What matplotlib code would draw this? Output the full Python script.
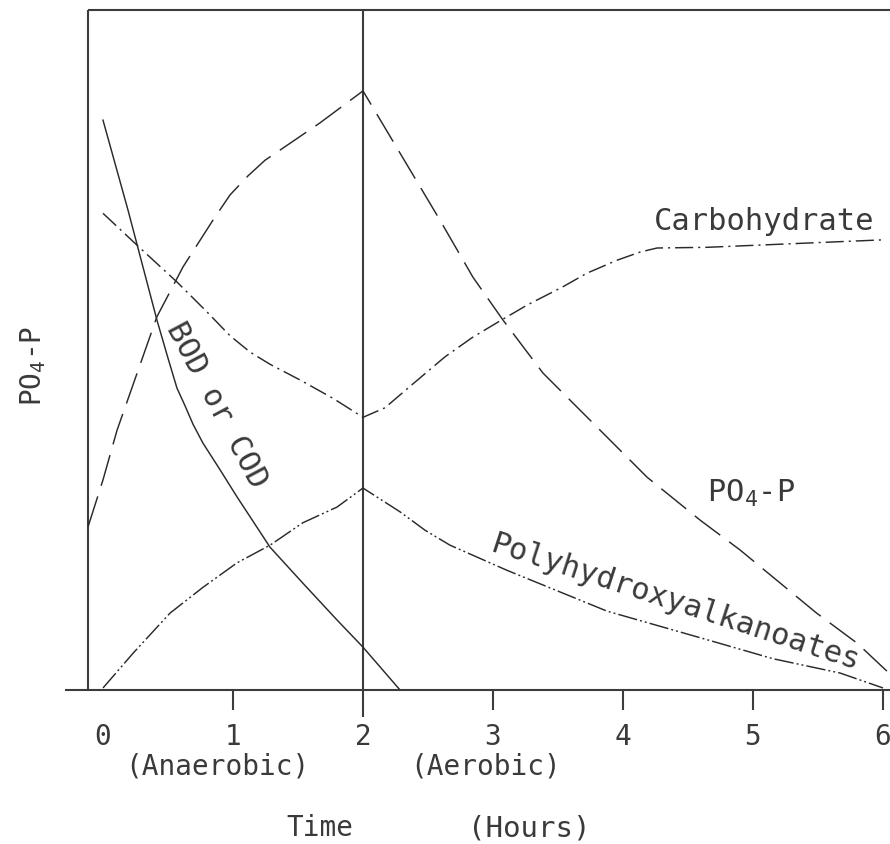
import matplotlib
matplotlib.use("Agg")
import matplotlib.pyplot as plt

plt.rcParams['font.family'] = ['DejaVu Sans Mono', 'DejaVu Sans']
plt.rcParams['mathtext.default'] = 'regular'
plt.rcParams['lines.scale_dashes'] = False

# ---- data (time in hours, concentration in arbitrary units) ----
po4_t = [-0.115, 0.0, 0.108, 0.415, 0.615, 0.846, 0.977, 1.115, 1.246, 1.385, 1.669, 2.0,
         2.592, 2.846, 3.077, 3.385, 3.746, 4.185, 4.592, 4.90, 5.49, 5.80, 6.04]
po4_v = [2.40, 3.09, 3.82, 5.49, 6.22, 6.91, 7.28, 7.56, 7.79, 7.97, 8.34, 8.81,
         6.91, 6.07, 5.44, 4.66, 3.97, 3.13, 2.50, 2.06, 1.13, 0.69, 0.26]

carb_t = [0.0, 0.285, 0.569, 0.80, 0.977, 1.131, 1.285, 1.515, 1.769, 2.0,
          2.169, 2.377, 2.631, 2.838, 3.038, 3.262, 3.538, 3.723, 3.954, 4.131, 4.262, 4.646, 6.0]
carb_v = [7.01, 6.50, 6.00, 5.56, 5.21, 4.97, 4.79, 4.56, 4.29, 4.01,
          4.15, 4.49, 4.90, 5.18, 5.41, 5.66, 5.93, 6.13, 6.32, 6.44, 6.50, 6.51, 6.62]

bod_t = [0.0, 0.192, 0.415, 0.50, 0.569, 0.631, 0.692, 0.769, 0.90, 1.031,
         1.285, 1.538, 1.800, 2.0, 2.285]
bod_v = [8.38, 7.06, 5.44, 4.88, 4.44, 4.18, 3.91, 3.63, 3.24, 2.84,
         2.10, 1.57, 1.03, 0.63, 0.0]

pha_t = [0.0, 0.231, 0.515, 0.769, 1.031, 1.285, 1.538, 1.800, 2.0,
         2.285, 2.477, 2.669, 3.108, 3.877, 4.646, 5.154, 5.669, 6.0]
pha_v = [0.03, 0.54, 1.13, 1.51, 1.87, 2.13, 2.46, 2.69, 2.97,
         2.62, 2.35, 2.13, 1.76, 1.16, 0.74, 0.46, 0.25, 0.03]

tick_vals = [0, 1, 2, 3, 4, 5, 6]
tick_labels = ['0', '1', '2', '3', '4', '5', '6']

# ---- figure ----
W, H = 890, 844
fig = plt.figure(figsize=(W / 100, H / 100), dpi=100)
ax = fig.add_axes([66 / W, (H - 690) / H, 1 - 66 / W, (690 - 10) / H])
xmin, xmax = -0.2846, 6.054
ax.set_xlim(xmin, xmax)
ax.set_ylim(0, 10)

ink = '#2a2a2a'
frame = '#3c3c3c'
lw = 1.05

for s in ['left', 'right', 'top']:
    ax.spines[s].set_visible(False)
ax.spines['bottom'].set_color(frame)
ax.spines['bottom'].set_linewidth(1.5)

# frame lines
ax.hlines(10, -0.115, xmax, color=frame, lw=1.5, clip_on=False)
ax.vlines(-0.115, 0, 10, color=frame, lw=1.5)
ax.vlines(2, -27 / 68, 10, color=frame, lw=1.5, clip_on=False)

# curves
ax.plot(po4_t, po4_v, color=ink, lw=lw, dashes=(23, 8))
ax.plot(carb_t, carb_v, color=ink, lw=lw, dashes=(13, 3.6, 1.5, 3.6))
ax.plot(bod_t, bod_v, color=ink, lw=lw)
ax.plot(pha_t, pha_v, color=ink, lw=lw, dashes=(14, 2.2, 1.4, 2.2, 1.4, 2.2))

# ticks
tc = '#3a3a3a'
ax.set_yticks([])
ax.set_xticks(tick_vals)
ax.set_xticklabels(tick_labels, fontsize=20, color=tc)
ax.tick_params(axis='x', direction='out', length=14.4, width=1.5, color=frame, pad=9.4)
for tk, v in zip(ax.xaxis.get_major_ticks(), tick_vals):
    if v in (0, 2):
        tk.tick1line.set_markersize(0)

ax.text(0.877, -1.13, '(Anaerobic)', ha='center', va='center', fontsize=20, color=tc, clip_on=False)
ax.text(2.94, -1.13, '(Aerobic)', ha='center', va='center', fontsize=20, color=tc, clip_on=False)
ax.text(1.67, -2.03, 'Time', ha='center', va='center', fontsize=20, color=tc, clip_on=False)
ax.text(3.28, -2.03, '(Hours)', ha='center', va='center', fontsize=21, color=tc, clip_on=False)

ax.text(-0.538, 4.76, 'PO$_4$-P', ha='center', va='center', rotation=90, fontsize=20, color=tc, clip_on=False)

ax.text(5.085, 6.76, 'Carbohydrate', ha='center', va='baseline', fontsize=22, color=tc)
ax.text(4.646, 2.76, 'PO$_4$-P', ha='left', va='baseline', fontsize=22, color=tc)
ax.text(4.40, 1.28, 'Polyhydroxyalkanoates', ha='center', va='center', rotation=-18,
        rotation_mode='anchor', fontsize=22, color=tc)
ax.text(0.877, 4.19, 'BOD or COD', ha='center', va='center', rotation=-62,
        rotation_mode='anchor', fontsize=22, color=tc)

fig.savefig('out.png', dpi=100)
